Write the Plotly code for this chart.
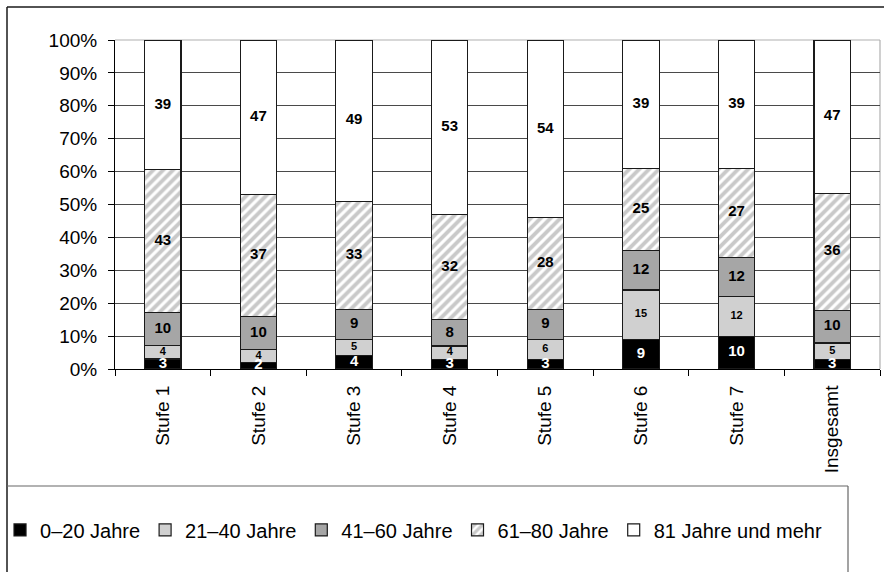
import numpy as np
import plotly.graph_objects as go

categories = ["Stufe 1", "Stufe 2", "Stufe 3", "Stufe 4", "Stufe 5", "Stufe 6", "Stufe 7", "Insgesamt"]
series_names = ["0–20 Jahre", "21–40 Jahre", "41–60 Jahre", "61–80 Jahre", "81 Jahre und mehr"]

age_0_20 = [3, 2, 4, 3, 3, 9, 10, 3]
age_21_40 = [4, 4, 5, 4, 6, 15, 12, 5]
age_41_60 = [10, 10, 9, 8, 9, 12, 12, 10]
age_61_80 = [43, 37, 33, 32, 28, 25, 27, 36]
age_81_plus = [39, 47, 49, 53, 54, 39, 39, 47]

y_tick_values = [0, 10, 20, 30, 40, 50, 60, 70, 80, 90, 100]
y_tick_labels = ["0%", "10%", "20%", "30%", "40%", "50%", "60%", "70%", "80%", "90%", "100%"]

series = [age_0_20, age_21_40, age_41_60, age_61_80, age_81_plus]
fills = ["#000000", "#d0d0d0", "#a6a6a6", "#cccccc", "#ffffff"]
label_colors = ["white", "black", "black", "black", "black"]
label_sizes = [15, 11, 15, 15, 15]

FONT = "Liberation Sans, Arial, Helvetica, sans-serif"

fig = go.Figure()
for i, (name, vals) in enumerate(zip(series_names, series)):
    marker = dict(color=fills[i], line=dict(color="#1a1a1a", width=1.2))
    if i == 3:
        marker["pattern"] = dict(shape="/", fillmode="replace", bgcolor="#ffffff",
                                 fgcolor="#c9c9c9", size=7, solidity=0.55)
    fig.add_trace(go.Bar(x=categories, y=vals, name=name, marker=marker,
                         hoverinfo="skip"))

# labels at segment centres (percent-normalised)
arr = np.array(series, dtype=float)
totals = arr.sum(axis=0)
pct = arr / totals * 100.0
cum = np.cumsum(pct, axis=0)
mids = cum - pct / 2.0
for i, vals in enumerate(series):
    fig.add_trace(go.Scatter(
        x=categories, y=mids[i], mode="text", text=[str(v) for v in vals],
        textposition="middle center",
        textfont=dict(family=FONT, size=label_sizes[i], color=label_colors[i], weight="bold"),
        showlegend=False, hoverinfo="skip", cliponaxis=False))

fig.update_layout(
    barmode="stack", barnorm="percent", bargap=0.62,
    width=884, height=572, autosize=False,
    margin=dict(l=115, r=4, t=40, b=203, pad=0, autoexpand=False),
    paper_bgcolor="white", plot_bgcolor="white",
    font=dict(family=FONT, color="black", size=19),
    showlegend=True,
    legend=dict(orientation="h", x=-0.1503, xanchor="left", y=-0.489, yanchor="middle",
                font=dict(family=FONT, size=20, color="black"),
                itemwidth=30, traceorder="normal", bgcolor="rgba(0,0,0,0)",
                itemclick=False, itemdoubleclick=False),
    xaxis=dict(showline=True, linecolor="black", linewidth=1, ticks="outside",
               tickson="boundaries", ticklen=6, tickcolor="black", tickangle=-90,
               tickfont=dict(family=FONT, size=19, color="black"),
               ticklabelstandoff=8, showgrid=False, fixedrange=True, automargin=False),
    yaxis=dict(range=[0, 100], tickvals=y_tick_values, ticktext=y_tick_labels,
               showline=True, linecolor="black", linewidth=1, ticks="outside",
               ticklen=6, tickcolor="black", showgrid=True, gridcolor="#4a4a4a",
               gridwidth=1, zeroline=False,
               tickfont=dict(family=FONT, size=19, color="black"),
               ticklabelstandoff=7, fixedrange=True, automargin=False),
)

def px_x(px):
    return (px - 115) / 765.0

def px_y(py):
    return (369 - py) / 329.0

shapes = [
    # light plot-area border top and right
    dict(type="line", xref="paper", yref="paper", x0=0, x1=1, y0=1, y1=1,
         line=dict(color="#b0b0b0", width=1.2), layer="between"),
    dict(type="line", xref="paper", yref="paper", x0=1, x1=1, y0=0, y1=1,
         line=dict(color="#b0b0b0", width=1.2), layer="between"),
    # outer chart frame
    dict(type="line", xref="paper", yref="paper", x0=px_x(7), x1=px_x(892), y0=px_y(7), y1=px_y(7),
         line=dict(color="#1a1a1a", width=1.5)),
    dict(type="line", xref="paper", yref="paper", x0=px_x(7), x1=px_x(7), y0=px_y(7), y1=px_y(590),
         line=dict(color="#1a1a1a", width=1.5)),
    # legend box
    dict(type="line", xref="paper", yref="paper", x0=px_x(7), x1=px_x(848), y0=px_y(486), y1=px_y(486),
         line=dict(color="#666666", width=1.2)),
    dict(type="line", xref="paper", yref="paper", x0=px_x(848), x1=px_x(848), y0=px_y(486), y1=px_y(590),
         line=dict(color="#666666", width=1.2)),
]
fig.update_layout(shapes=shapes)

fig.write_html("out.html", config={"displayModeBar": False},
               post_script="document.body.style.margin='0px';document.body.style.overflow='hidden';")
